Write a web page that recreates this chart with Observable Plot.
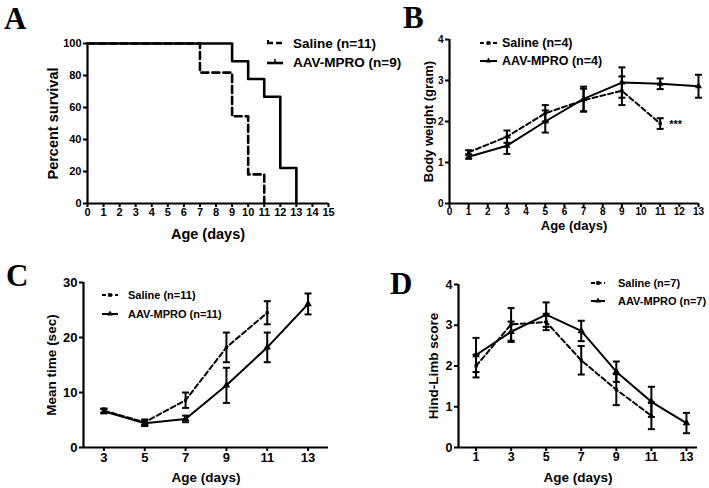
<!DOCTYPE html>
<html><head><meta charset="utf-8">
<script src="https://cdn.jsdelivr.net/npm/d3@7"></script>
<script src="https://cdn.jsdelivr.net/npm/@observablehq/plot@0.6"></script>
<style>
body{margin:0;background:#fff;}
#fig{position:relative;width:709px;height:488px;overflow:hidden;font-family:"Liberation Sans",Arial,sans-serif;color:#000;background:#fff;}
.panel{position:absolute;}
.letter{position:absolute;font-family:"Liberation Serif","Times New Roman",serif;font-weight:bold;font-size:31px;line-height:1;}
.lrow{position:absolute;display:flex;align-items:center;white-space:nowrap;font-weight:bold;height:16px;}
.lrow svg{display:block;}
</style></head>
<body><div id="fig"></div>
<script>
// ---------- Panel A: survival ----------
const survTicksX = [0,1,2,3,4,5,6,7,8,9,10,11,12,13,14,15];
const survTicksY = [0,20,40,60,80,100];
const salineSurvDays = [0,7,9,10,11];
const salineSurv = [100,81.8,54.5,18.2,0];
const aavSurvDays = [0,9,10,11,12,13];
const aavSurv = [100,88.9,77.8,66.7,22.2,0];

// ---------- Panel B: body weight ----------
const weightTicksX = [0,1,2,3,4,5,6,7,8,9,10,11,12,13];
const weightTicksY = [0,1,2,3,4];
const salineWeightDays = [1,3,5,7,9,11];
const salineWeight = [1.25,1.63,2.2,2.52,2.75,1.95];
const salineWeightErr = [0.05,0.15,0.2,0.28,0.35,0.13];
const aavWeightDays = [1,3,5,7,9,11,13];
const aavWeight = [1.14,1.41,2.0,2.55,2.95,2.92,2.86];
const aavWeightErr = [0.05,0.2,0.27,0.3,0.37,0.13,0.28];
const weightStars = "***";

// ---------- Panel C: mean time ----------
const timeTicksX = [3,5,7,9,11,13];
const timeTicksY = [0,10,20,30];
const salineTimeDays = [3,5,7,9,11];
const salineTime = [6.7,4.6,8.6,18.2,24.5];
const salineTimeErr = [0.4,0.5,1.4,2.7,2.1];
const aavTimeDays = [3,5,7,9,11,13];
const aavTime = [6.6,4.4,5.2,11.3,18.2,26.1];
const aavTimeErr = [0.4,0.5,0.6,3.2,2.7,1.9];

// ---------- Panel D: hind-limb score ----------
const limbTicksX = [1,3,5,7,9,11,13];
const limbTicksY = [0,1,2,3,4];
const salineLimbDays = [1,3,5,7,9,11];
const salineLimb = [2.0,3.02,3.08,2.14,1.42,0.78];
const salineLimbErr = [0.28,0.4,0.2,0.35,0.38,0.33];
const aavLimbDays = [1,3,5,7,9,11,13];
const aavLimb = [2.27,2.84,3.26,2.86,1.86,1.12,0.6];
const aavLimbErr = [0.42,0.25,0.3,0.25,0.25,0.37,0.25];

// ---------- helpers ----------
const rows = (days, vals, errs) => vals.map((v, i) => ({day: days[i], v, e: errs ? errs[i] : 0}));
const capSymbol = {draw(ctx, size) { const w = Math.sqrt(size / Math.PI); ctx.moveTo(-w, 0); ctx.lineTo(w, 0); }};
const fmt = d => String(d);

function seriesMarks(data, dashed, symbol, r) {
  return [
    Plot.ruleX(data, {x: "day", y1: d => d.v - d.e, y2: d => d.v + d.e, stroke: "black", strokeWidth: 2}),
    Plot.dot(data, {x: "day", y: d => d.v + d.e, symbol: capSymbol, r: 3.5, stroke: "black", strokeWidth: 2, fill: "none"}),
    Plot.dot(data, {x: "day", y: d => d.v - d.e, symbol: capSymbol, r: 3.5, stroke: "black", strokeWidth: 2, fill: "none"}),
    Plot.line(data, {x: "day", y: "v", stroke: "black", strokeWidth: 2, strokeDasharray: dashed ? "5,3" : null}),
    Plot.dot(data, {x: "day", y: "v", symbol, r, fill: "black", stroke: "none"})
  ];
}

function axes(o) {
  return [
    Plot.axisX({ticks: o.xTicks, tickFormat: fmt, tickSize: 4, tickPadding: o.xPad ?? 1, strokeWidth: 2, fontSize: o.tickSize, label: null}),
    Plot.axisX({ticks: o.xTicks, tickSize: 0, tickFormat: () => "", fontSize: o.labelSize, label: o.xLabel, labelAnchor: "center", labelOffset: o.xLabelOffset, labelArrow: false}),
    Plot.axisY({ticks: o.yTicks, tickFormat: fmt, tickSize: 4, tickPadding: 2, strokeWidth: 2, fontSize: o.tickSize, label: null}),
    Plot.axisY({ticks: o.yTicks, tickSize: 0, tickFormat: () => "", fontSize: o.labelSize, label: o.yLabel, labelAnchor: "center", labelOffset: o.yLabelOffset, labelArrow: false}),
    Plot.ruleX([o.x0], {strokeWidth: 2.2}),
    Plot.ruleY([o.y0], {strokeWidth: 2.2})
  ];
}

const baseStyle = {fontFamily: "'Liberation Sans', Arial, sans-serif", fontWeight: "bold", color: "black", background: "transparent", overflow: "visible"};
const fig = document.getElementById("fig");
function place(el, left, top) { const d = document.createElement("div"); d.className = "panel"; d.style.left = left + "px"; d.style.top = top + "px"; d.appendChild(el); fig.appendChild(d); }

// ---------- Panel A ----------
const plotA = Plot.plot({
  width: 350, height: 245, marginLeft: 87, marginRight: 22, marginTop: 43, marginBottom: 42,
  style: baseStyle,
  x: {domain: [0, 15]}, y: {domain: [0, 100]},
  marks: [
    ...axes({xTicks: survTicksX, yTicks: survTicksY, tickSize: 11, labelSize: 14.5, xLabel: "Age (days)", yLabel: "Percent survival", xLabelOffset: 35, yLabelOffset: 40, x0: 0, y0: 0}),
    Plot.line(rows(salineSurvDays, salineSurv), {x: "day", y: "v", curve: "step-after", stroke: "black", strokeWidth: 2.6, strokeDasharray: "7,4"}),
    Plot.line(rows(aavSurvDays, aavSurv), {x: "day", y: "v", curve: "step-after", stroke: "black", strokeWidth: 2.6})
  ]
});
place(plotA, 0, 0);

// ---------- Panel B ----------
const salineB = rows(salineWeightDays, salineWeight, salineWeightErr);
const plotB = Plot.plot({
  width: 359, height: 245, marginLeft: 99, marginRight: 11, marginTop: 39, marginBottom: 42,
  style: baseStyle,
  x: {domain: [0, 13]}, y: {domain: [0, 4]},
  marks: [
    ...axes({xTicks: weightTicksX, yTicks: weightTicksY, tickSize: 10, labelSize: 13, xLabel: "Age (days)", yLabel: "Body weight (gram)", xLabelOffset: 26, yLabelOffset: 26, x0: 0, y0: 0, xPad: 0}),
    ...seriesMarks(salineB, true, "square", 1.8),
    ...seriesMarks(rows(aavWeightDays, aavWeight, aavWeightErr), false, "triangle", 2.6),
    Plot.text(salineB.slice(-1), {x: "day", y: "v", text: () => weightStars, dx: 9, dy: 1, textAnchor: "start", fontSize: 11, fontWeight: "bold"})
  ]
});
place(plotB, 350, 0);

// ---------- Panel C ----------
const plotC = Plot.plot({
  width: 350, height: 243, marginLeft: 83, marginRight: 22, marginTop: 37, marginBottom: 41,
  style: baseStyle,
  x: {domain: [2, 14]}, y: {domain: [0, 30]},
  marks: [
    ...axes({xTicks: timeTicksX, yTicks: timeTicksY, tickSize: 13, labelSize: 13.5, xLabel: "Age (days)", yLabel: "Mean time (sec)", xLabelOffset: 34, yLabelOffset: 37, x0: 2, y0: 0}),
    ...seriesMarks(rows(salineTimeDays, salineTime, salineTimeErr), true, "square", 1.8),
    ...seriesMarks(rows(aavTimeDays, aavTime, aavTimeErr), false, "triangle", 2.8)
  ]
});
place(plotC, 0, 245);

// ---------- Panel D ----------
const plotD = Plot.plot({
  width: 359, height: 243, marginLeft: 108, marginRight: 12, marginTop: 39, marginBottom: 41,
  style: baseStyle,
  x: {domain: [0, 13.63]}, y: {domain: [0, 4]},
  marks: [
    ...axes({xTicks: limbTicksX, yTicks: limbTicksY, tickSize: 12.5, labelSize: 13.5, xLabel: "Age (days)", yLabel: "Hind-Limb score", xLabelOffset: 34, yLabelOffset: 30, x0: 0, y0: 0}),
    ...seriesMarks(rows(salineLimbDays, salineLimb, salineLimbErr), true, "square", 1.8),
    ...seriesMarks(rows(aavLimbDays, aavLimb, aavLimbErr), false, "triangle", 2.8)
  ]
});
place(plotD, 350, 245);

// ---------- panel letters ----------
[["A", 4, 2.6], ["B", 403, 1.6], ["C", 6, 259.6], ["D", 390, 267.6]].forEach(([t, l, tp]) => {
  const d = document.createElement("div"); d.className = "letter"; d.textContent = t;
  d.style.left = l + "px"; d.style.top = tp + "px"; fig.appendChild(d);
});

// ---------- legends ----------
function sample(kind, w) {
  let s = `<svg width="${w}" height="10" viewBox="0 0 ${w} 10">`;
  if (kind === "survSaline") {
    s += `<line x1="1" y1="2" x2="1" y2="6" stroke="black" stroke-width="2"/><line x1="0" y1="5" x2="${w}" y2="5" stroke="black" stroke-width="2.6" stroke-dasharray="6,3"/>`;
  } else if (kind === "survAav") {
    s += `<line x1="0" y1="6" x2="${w}" y2="6" stroke="black" stroke-width="2.6"/><line x1="${w/2}" y1="2" x2="${w/2}" y2="6" stroke="black" stroke-width="1.5"/>`;
  } else if (kind === "saline") {
    s += `<line x1="0" y1="5" x2="${w}" y2="5" stroke="black" stroke-width="2" stroke-dasharray="4,2.5"/><rect x="${w/2-1.8}" y="3.2" width="3.6" height="3.6" fill="black"/>`;
  } else {
    s += `<line x1="0" y1="5" x2="${w}" y2="5" stroke="black" stroke-width="2"/><path d="M${w/2},1.5L${w/2+3},6.5L${w/2-3},6.5Z" fill="black"/>`;
  }
  return s + "</svg>";
}
function legendRow(kind, label, x, textX, w, cy, fs) {
  const d = document.createElement("div"); d.className = "lrow";
  d.style.left = x + "px"; d.style.top = (cy - 8) + "px"; d.style.fontSize = fs + "px";
  d.innerHTML = sample(kind, w) + `<span style="margin-left:${textX - x - w}px">${label}</span>`;
  fig.appendChild(d);
}
legendRow("survSaline", "Saline (n=11)", 267, 293, 16, 43, 13.5);
legendRow("survAav", "AAV-MPRO (n=9)", 267, 293, 16, 62, 13.5);
legendRow("saline", "Saline (n=4)", 480, 502, 17, 43, 12.5);
legendRow("aav", "AAV-MPRO (n=4)", 480, 502, 17, 61, 12.5);
legendRow("saline", "Saline (n=11)", 102, 128, 16, 295, 11);
legendRow("aav", "AAV-MPRO (n=11)", 102, 128, 16, 314, 11);
legendRow("saline", "Saline (n=7)", 591, 618, 14, 283, 11);
legendRow("aav", "AAV-MPRO (n=7)", 591, 618, 14, 301, 11);
</script></body></html>
